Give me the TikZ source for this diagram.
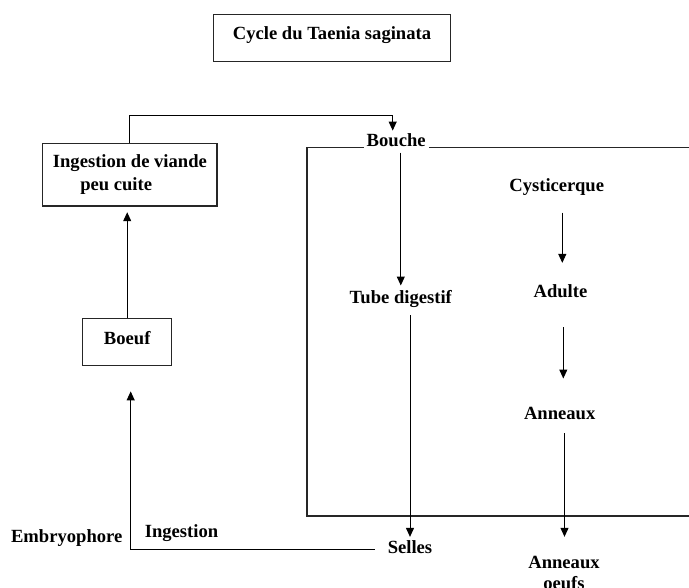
\documentclass[tikz,border=0pt]{standalone}
\usepackage{fontspec}
\setmainfont{Liberation Serif}
\usetikzlibrary{arrows.meta}

\begin{document}
\begin{tikzpicture}
    [x=1pt,y=-1pt,
    etiquette/.style={font=\fontsize{18.6}{22.7}\selectfont\bfseries,inner sep=3pt,anchor=base},
    boite/.style={draw=black!85,line width=1.4pt,inner sep=0pt,font=\fontsize{18.6}{22.7}\selectfont\bfseries},
    fleche/.style={-{Triangle[length=9pt,width=8pt]},line width=1pt},
    cadre/.style={black!85,line width=1.2pt}]

\useasboundingbox (0,0) rectangle (689,588);

%title
\node[boite,minimum width=237.4pt,minimum height=47pt,text height=13pt,text depth=9.4pt] (titre) at (332,38.2) {Cycle du Taenia saginata};

%left side: host
\node[boite,align=left,minimum width=174.3pt,minimum height=62.7pt] (viande) at (129.9,174.7) {Ingestion de viande\\\hspace*{27.4pt}peu cuite};
\node[boite,minimum width=89pt,minimum height=46.6pt,text height=13pt,text depth=7pt] (boeuf) at (127.2,342) {Boeuf};
\node[etiquette] (embryo) at (66.7,542.7) {Embryophore};
\node[etiquette] (ingest) at (181.5,537) {Ingestion};

%right side: man
\node[etiquette] (bouche) at (396.2,146.7) {Bouche};
\node[etiquette] (tube) at (400.8,303.3) {Tube digestif};
\node[etiquette] (selles) at (410,553) {Selles};
\node[etiquette] (cysti) at (556.7,191.7) {Cysticerque};
\node[etiquette] (adulte) at (560.5,297.7) {Adulte};
\node[etiquette] (anneaux) at (559.7,420) {Anneaux};
\node[etiquette,align=center] (oeufs) at (564,589) {Anneaux\\[-1.7pt]oeufs};

%corner points
\coordinate (coude) at (392.7,115.7);
\coordinate (coin) at (130.7,549);
\coordinate (hautg) at (307,147.3);
\coordinate (basg) at (307,516);
\coordinate (basd) at (689,516);
\coordinate (hautd) at (689,147.3);

%frame round the man
\draw[cadre] (hautg -| bouche.west) -- (hautg) -- (basg) -- (basd);
\draw[cadre] (hautd -| bouche.east) -- (hautd);

%draw the cycle
\draw[fleche] (viande.north) |- (coude) -- (coude |- bouche.north);
\draw[fleche,shorten <=2.5pt,shorten >=1.5pt] (tube.north |- bouche.south) -- (tube.north);
\draw[fleche,shorten <=4.7pt] (selles.north |- tube.south) -- (selles.north);
\draw[fleche,shorten <=10pt,shorten >=25.4pt] (selles.west |- coin) -- (coin) -- (coin |- boeuf.south);
\draw[fleche,shorten >=5.5pt] (boeuf.north) -- (boeuf.north |- viande.south);

\draw[fleche,shorten <=13.6pt,shorten >=18.7pt] (cysti.south -| 562.3,0) -- (adulte.north -| 562.3,0);
\draw[fleche,shorten <=26pt,shorten >=26pt] (adulte.south -| 563.3,0) -- (anneaux.north -| 563.3,0);
\draw[fleche,shorten <=9.7pt,shorten >=15.7pt] (anneaux.south -| 564.5,0) -- (oeufs.north -| 564.5,0);

\end{tikzpicture}
\end{document}
